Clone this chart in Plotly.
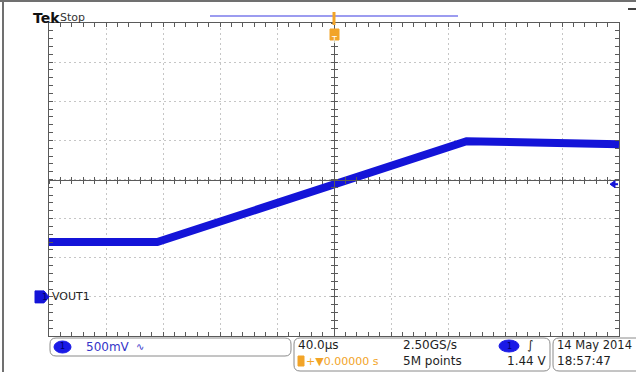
import plotly.graph_objects as go

# ---------------- data ----------------
time_us = [-200, -124, 93, 200]          # VOUT1 key points, time in microseconds
vout1_V = [0.70, 0.70, 1.99, 1.95]       # VOUT1 level in volts
x_range_us = [-200, 200]                 # 10 div x 40 us
y_range_V = [-0.5, 3.5]                  # 8 div x 500 mV, ground at -3 div
time_div_us = 40
volt_div_V = 0.5
trigger_level_V = 1.44
ground_V = 0.0

channel_label = "VOUT1"
scale_label = "500mV"
timebase_label = "40.0µs"
sample_rate_label = "2.50GS/s"
record_label = "5M points"
trigger_label = "1.44 V"
delay_label = "+▼0.00000 s"
date_label = "14 May 2014"
clock_label = "18:57:47"

# ---------------- geometry helpers ----------------
W, H = 636, 372
L, R, T, B = 49, 619, 23, 336


def px(x):
    return (x - L) / (R - L)


def py(y):
    return (B - y) / (B - T)


V_PER_PX = (y_range_V[1] - y_range_V[0]) / (B - T)
FONT = "DejaVu Sans"
GRID = "#c6c6c6"
FRAME = "#5a5a5a"
BLUE = "#1414d8"
ORANGE = "#f2a428"

fig = go.Figure()
fig.add_trace(go.Scatter(x=time_us, y=vout1_V, mode="lines",
                         line=dict(color=BLUE, width=8),
                         hoverinfo="skip", showlegend=False))
# empty traces so the centre-cross axes get drawn
for xa, ya in [("x2", "y"), ("x3", "y"), ("x", "y2"), ("x", "y3")]:
    fig.add_trace(go.Scatter(x=[None], y=[None], xaxis=xa, yaxis=ya,
                             showlegend=False, hoverinfo="skip"))

common = dict(showticklabels=False, fixedrange=True)
fig.update_layout(
    width=W, height=H, autosize=False,
    margin=dict(l=L, r=W - R, t=T, b=H - B, pad=0),
    paper_bgcolor="white", plot_bgcolor="white",
    xaxis=dict(range=x_range_us, dtick=time_div_us, tick0=0,
               showgrid=True, gridcolor=GRID, griddash="2px,3px", gridwidth=1,
               ticks="inside", ticklen=4, tickcolor=FRAME,
               minor=dict(dtick=time_div_us / 5, ticks="inside", ticklen=4,
                          tickcolor=FRAME, showgrid=False),
               showline=True, linecolor=FRAME, linewidth=1, mirror="allticks",
               zeroline=False, **common),
    yaxis=dict(range=y_range_V, dtick=volt_div_V, tick0=y_range_V[0],
               showgrid=True, gridcolor=GRID, griddash="2px,3px", gridwidth=1,
               ticks="inside", ticklen=4, tickcolor=FRAME,
               minor=dict(dtick=volt_div_V / 5, ticks="inside", ticklen=4,
                          tickcolor=FRAME, showgrid=False),
               showline=True, linecolor=FRAME, linewidth=1, mirror="allticks",
               zeroline=False, **common),
    xaxis2=dict(overlaying="x", anchor="free", position=0.5, side="bottom",
                range=x_range_us, dtick=time_div_us / 5, tick0=0,
                showgrid=False, zeroline=False, showline=True,
                linecolor=FRAME, linewidth=1,
                ticks="outside", ticklen=3, tickcolor=FRAME, **common),
    xaxis3=dict(overlaying="x", anchor="free", position=0.5, side="bottom",
                range=x_range_us, dtick=time_div_us / 5, tick0=0,
                showgrid=False, zeroline=False, showline=False,
                ticks="inside", ticklen=3, tickcolor=FRAME, **common),
    yaxis2=dict(overlaying="y", anchor="free", position=0.5, side="left",
                range=y_range_V, dtick=volt_div_V / 5, tick0=y_range_V[0],
                showgrid=False, zeroline=False, showline=True,
                linecolor=FRAME, linewidth=1,
                ticks="outside", ticklen=3, tickcolor=FRAME, **common),
    yaxis3=dict(overlaying="y", anchor="free", position=0.5, side="left",
                range=y_range_V, dtick=volt_div_V / 5, tick0=y_range_V[0],
                showgrid=False, zeroline=False, showline=False,
                ticks="inside", ticklen=3, tickcolor=FRAME, **common),
    hovermode=False,
)


def rrect(x0, y0, x1, y1, r, line="#8a8a8a", fill="white"):
    p = (f"M {px(x0 + r)},{py(y0)} L {px(x1 - r)},{py(y0)} "
         f"Q {px(x1)},{py(y0)} {px(x1)},{py(y0 + r)} L {px(x1)},{py(y1 - r)} "
         f"Q {px(x1)},{py(y1)} {px(x1 - r)},{py(y1)} L {px(x0 + r)},{py(y1)} "
         f"Q {px(x0)},{py(y1)} {px(x0)},{py(y1 - r)} L {px(x0)},{py(y0 + r)} "
         f"Q {px(x0)},{py(y0)} {px(x0 + r)},{py(y0)} Z")
    return dict(type="path", xref="paper", yref="paper", path=p,
                line=dict(color=line, width=1), fillcolor=fill, layer="above")


def txt(x, y, s, size=12, color="#1e1e1e", anchor="left", family=FONT):
    return dict(xref="paper", yref="paper", x=px(x), y=py(y), text=s,
                showarrow=False, xanchor=anchor, yanchor="middle",
                font=dict(family=family, size=size, color=color))


shapes = []
ann = []

# outer frame of the screenshot
shapes.append(dict(type="line", xref="paper", yref="paper",
                   x0=px(0), x1=px(W), y0=py(1), y1=py(1),
                   line=dict(color="#707070", width=2)))
shapes.append(dict(type="line", xref="paper", yref="paper",
                   x0=px(3), x1=px(3), y0=py(0), y1=py(H),
                   line=dict(color="#707070", width=2)))
# small dash top-right
shapes.append(dict(type="line", xref="paper", yref="paper",
                   x0=px(628), x1=px(636), y0=py(9), y1=py(9),
                   line=dict(color="#444", width=2)))

# record view bar
shapes.append(dict(type="line", xref="paper", yref="paper",
                   x0=px(210), x1=px(458), y0=py(16), y1=py(16),
                   line=dict(color="#9c9cf0", width=2)))

# trigger position marker (orange) at t = 0
shapes.append(dict(type="line", xref="x", yref="paper", x0=0, x1=0,
                   y0=py(12), y1=py(25), line=dict(color=ORANGE, width=3)))
shapes.append(dict(type="rect", xref="paper", yref="paper",
                   x0=px(330), x1=px(339), y0=py(29), y1=py(40),
                   fillcolor=ORANGE, line=dict(color=ORANGE, width=1)))
ann.append(dict(xref="x", yref="paper", x=0, y=py(34.5), text="T",
                showarrow=False, font=dict(family=FONT, size=8, color="white")))

# trigger level arrow on right edge
y_tr = trigger_level_V
shapes.append(dict(type="path", xref="paper", yref="y",
                   path=(f"M {px(610)},{y_tr} L {px(615)},{y_tr + 3.5 * V_PER_PX} "
                         f"L {px(615)},{y_tr - 3.5 * V_PER_PX} Z"),
                   fillcolor=BLUE, line=dict(color=BLUE, width=1)))
shapes.append(dict(type="line", xref="paper", yref="y",
                   x0=px(614), x1=px(618), y0=y_tr, y1=y_tr,
                   line=dict(color=BLUE, width=2)))

# channel 1 ground marker
g = ground_V
shapes.append(dict(type="path", xref="paper", yref="y",
                   path=(f"M {px(35)},{g + 6 * V_PER_PX} L {px(44)},{g + 6 * V_PER_PX} "
                         f"L {px(49)},{g} L {px(44)},{g - 6 * V_PER_PX} "
                         f"L {px(35)},{g - 6 * V_PER_PX} Z"),
                   fillcolor=BLUE, line=dict(color=BLUE, width=1)))
ann.append(dict(xref="paper", yref="y", x=px(40), y=g, text="1", showarrow=False,
                font=dict(family=FONT, size=9, color="#00006a")))
ann.append(dict(xref="paper", yref="y", x=px(50), y=g, text=channel_label,
                showarrow=False, xanchor="left",
                font=dict(family=FONT, size=11, color="#1e1e1e")))

# header text
ann.append(txt(31, 18, "<b>Tek</b>", size=14, color="#111"))
ann.append(txt(58, 18, "Stop", size=11, color="#333"))

# bottom readout boxes
shapes.append(rrect(50, 338, 291, 356, 6))
shapes.append(rrect(294, 338, 550, 371, 6))
shapes.append(rrect(553, 338, 645, 371, 6))

shapes.append(dict(type="circle", xref="paper", yref="paper",
                   x0=px(54), x1=px(71), y0=py(341), y1=py(353),
                   fillcolor="#1a1ae6", line=dict(color="#1a1ae6", width=1)))
ann.append(txt(62.5, 347, "1", size=8, color="#00006a", anchor="center"))
ann.append(txt(84, 347, scale_label, size=12, color="#3434c8"))
ann.append(txt(134, 347, "∿", size=10, color="#3434c8"))

ann.append(txt(296, 345, timebase_label, size=12))
shapes.append(dict(type="rect", xref="paper", yref="paper",
                   x0=px(298), x1=px(304), y0=py(356), y1=py(366),
                   fillcolor=ORANGE, line=dict(color=ORANGE, width=1)))
ann.append(txt(304, 361, delay_label, size=11, color=ORANGE))
ann.append(txt(401, 345, sample_rate_label, size=12))
ann.append(txt(401, 361, record_label, size=12))

shapes.append(dict(type="circle", xref="paper", yref="paper",
                   x0=px(499), x1=px(519), y0=py(340), y1=py(352),
                   fillcolor="#1a1ae6", line=dict(color="#1a1ae6", width=1)))
ann.append(txt(509, 346, "1", size=8, color="#00006a", anchor="center"))
ann.append(txt(525, 345, "∫", size=12, color="#1e1e1e"))
ann.append(txt(549, 361, trigger_label, size=12, anchor="right"))

ann.append(txt(555, 345, date_label, size=11.5))
ann.append(txt(555, 361, clock_label, size=12))

fig.update_layout(shapes=shapes, annotations=ann)
fig.write_html("out.html",
               config={"displayModeBar": False, "staticPlot": True},
               post_script="document.body.style.margin='0';"
                           "document.body.style.overflow='hidden';")
